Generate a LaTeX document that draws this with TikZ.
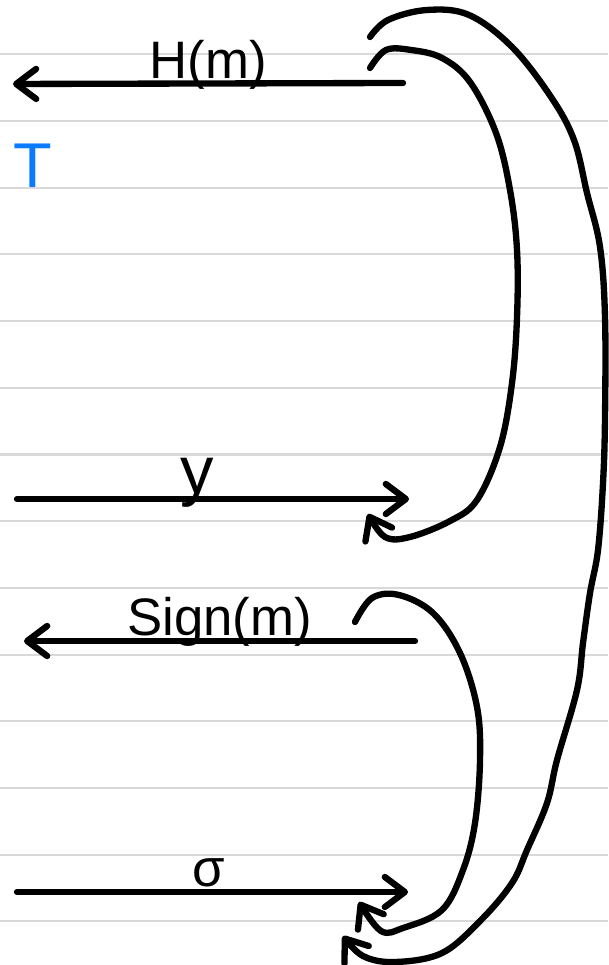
\documentclass[tikz,border=0pt]{standalone}
\usepackage{fontspec}
\setmainfont{Liberation Sans}
\definecolor{ruleGray}{RGB}{217, 217, 217}
\definecolor{penBlue}{RGB}{10, 122, 255}
\usetikzlibrary{arrows.meta}

\begin{document}
\begin{tikzpicture}[x=0.01cm, y=-0.01cm,
        ink/.style={line width=1.8pt, line cap=round, line join=round},
        arr/.style={ink, -{Straight Barb[length=2mm, width=3mm, round]}},
        lbl/.style={font=\fontsize{15}{18}\selectfont, anchor=base, inner sep=0pt, yshift=1.5pt}]
    \useasboundingbox (0,0) rectangle (608,965);

    % Ruled paper
    \foreach \k in {0,...,13} {
        \draw[ruleGray, line width=0.6pt] (0,{54.3+66.7*\k}) -- (608,{54.3+66.7*\k});
    }

    % Blue mark
    \node[font=\fontsize{18}{21}\selectfont, text=penBlue, inner sep=0pt] (tMark) at (33,166) {T};

    % End points of the four arrows
    \coordinate (hmTail) at (403,83);
    \coordinate (hmHead) at (13,84);
    \coordinate (yTail) at (17,499);
    \coordinate (yHead) at (409,499);
    \coordinate (sgTail) at (415,641);
    \coordinate (sgHead) at (24,641);
    \coordinate (sTail) at (17,892);
    \coordinate (sHead) at (408,892);

    % Straight arrows with labels
    \draw[arr] (hmTail) -- (hmHead) node[lbl, midway] (hmLabel) {H(m)};
    \draw[arr] (yTail) -- (yHead) node[lbl, pos=0.46, font=\fontsize{19}{22}\selectfont] (yLabel) {y};
    \draw[arr] (sgTail) -- (sgHead) node[lbl, midway] (sgLabel) {Sign(m)};
    \draw[arr] (sTail) -- (sHead) node[lbl, pos=0.49] (sLabel) {σ};

    % Ends of the curved arrows
    \coordinate (innerTop) at (370,68);
    \coordinate (innerTopEnd) at (368,514);
    \coordinate (outerTop) at (370,37);
    \coordinate (outerEnd) at (343,936);
    \coordinate (innerLow) at (355,622);
    \coordinate (innerLowEnd) at (359,902);

    % H(m) -> y
    \draw[arr] plot[smooth, tension=0.6] coordinates {(innerTop) (386,50) (411,50) (442,58)
        (470,82) (496,133) (510,190) (517,250) (517,317) (512,383) (500,447)
        (477,500) (450,521) (410,537) (385,537) (innerTopEnd)};

    % H(m) -> sigma
    \draw[arr] plot[smooth, tension=0.6] coordinates {(outerTop) (388,20) (427,10) (469,15)
        (512,47) (551,97) (574,140) (587,193) (600,247) (605,317) (605,417)
        (603,483) (598,550) (590,593) (583,643) (577,690) (557,760) (547,803)
        (527,850) (512,883) (481,920) (442,953) (395,962) (363,956) (outerEnd)};

    % Sign(m) -> sigma
    \draw[arr] plot[smooth, tension=0.6] coordinates {(innerLow) (372,598) (399,595)
        (433,613) (460,653) (477,707) (480,760) (475,823) (463,870) (442,910)
        (403,928) (381,931) (innerLowEnd)};
\end{tikzpicture}
\end{document}
